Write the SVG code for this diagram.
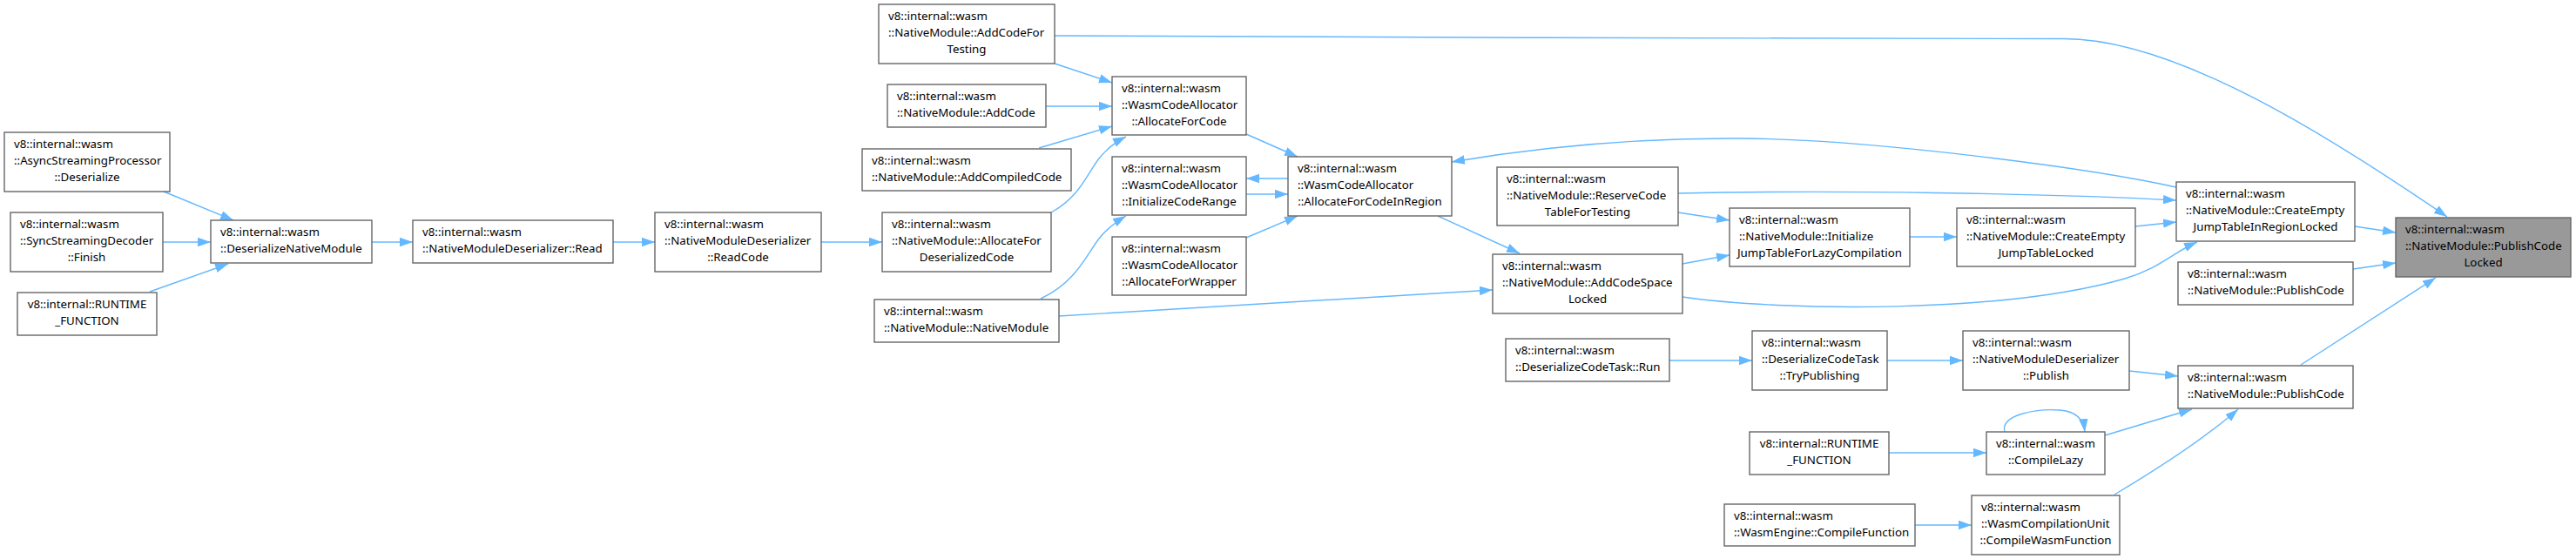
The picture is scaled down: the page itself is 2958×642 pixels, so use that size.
<svg xmlns="http://www.w3.org/2000/svg" width="2958" height="642" viewBox="0 0 2958 642">
<style>
.n rect{fill:#ffffff;stroke:#666666;stroke-width:1.4}
.m rect{fill:#999999;stroke:#666666;stroke-width:1.4}
text{font-family:"Noto Sans","DejaVu Sans",sans-serif;font-size:13.3px;fill:#000000}
.c{text-anchor:middle}
#edges path{fill:none;stroke:#63b8ff;stroke-width:1.4;marker-end:url(#ah)}
</style>
<defs>
<marker id="ah" markerWidth="16" markerHeight="11" refX="15" refY="5.25" orient="auto" markerUnits="userSpaceOnUse">
<path d="M0,0 L15,5.25 L0,10.5 z" fill="#63b8ff"/>
</marker>
</defs>
<rect width="2958" height="642" fill="#ffffff"/>
<g id="edges">
<path d="M188,220 L268,253"/>
<path d="M187,278 L242,278"/>
<path d="M172,335 L262,303"/>
<path d="M427,278 L474,278"/>
<path d="M704,278 L752,278"/>
<path d="M943,278 L1013,278"/>
<path d="M1211,73 L1277,95"/>
<path d="M1201,122 L1277,122"/>
<path d="M1193,170 L1277,145"/>
<path d="M1207,244 C1240,226 1248,200 1262,182 C1270,172 1281,163 1293,157"/>
<path d="M1195,343 C1235,325 1248,292 1262,274 C1270,264 1281,255 1293,248"/>
<path d="M1431,154 L1490,180"/>
<path d="M1479,205 L1431,205"/>
<path d="M1431,223 L1479,223"/>
<path d="M1431,273 L1490,248"/>
<path d="M1216,363 L1714,333"/>
<path d="M1651,248 L1745,291"/>
<path d="M1211,41 C1500,43 2200,44.5 2370,44.5 C2500,44.5 2680,160 2810,249"/>
<path d="M2499,215 C2400,193 2150,160 2000,159 C1860,158 1750,172 1667,186"/>
<path d="M1927,222 C2100,218 2350,222 2499,230"/>
<path d="M1927,244 L1986,253"/>
<path d="M1932,303 L1986,293"/>
<path d="M1932,341 C2050,358 2300,360 2440,320 C2480,308 2495,290 2523,278"/>
<path d="M2193,272 L2247,272"/>
<path d="M2452,260 L2499,255"/>
<path d="M2704,260 L2751,267"/>
<path d="M2702,309 L2751,302"/>
<path d="M2642,419 L2797,319"/>
<path d="M1917,414 L2012,414"/>
<path d="M2167,414 L2254,414"/>
<path d="M2445,426 L2501,432"/>
<path d="M2169,520 L2281,520"/>
<path d="M2302,496 C2296,476 2340,469 2365,471 C2380,472 2392,478 2394,496"/>
<path d="M2417,500 L2517,470"/>
<path d="M2428,568 C2480,537 2530,505 2570,470"/>
<path d="M2199,603 L2264,603"/>
</g>
<g id="A1" class="n"><rect x="5" y="152" width="190" height="68"/><text x="16" y="170">v8::internal::wasm</text><text x="16" y="189">::AsyncStreamingProcessor</text><text class="c" x="100" y="208">::Deserialize</text></g>
<g id="A2" class="n"><rect x="12" y="244" width="175" height="68"/><text x="23" y="262">v8::internal::wasm</text><text x="23" y="281">::SyncStreamingDecoder</text><text class="c" x="99.5" y="300">::Finish</text></g>
<g id="A3" class="n"><rect x="20" y="336" width="160" height="49"/><text class="c" x="100" y="354">v8::internal::RUNTIME</text><text class="c" x="100" y="373">_FUNCTION</text></g>
<g id="B" class="n"><rect x="242" y="253" width="185" height="49"/><text x="253" y="271">v8::internal::wasm</text><text x="253" y="290">::DeserializeNativeModule</text></g>
<g id="C" class="n"><rect x="474" y="253" width="230" height="49"/><text x="485" y="271">v8::internal::wasm</text><text x="485" y="290">::NativeModuleDeserializer::Read</text></g>
<g id="D" class="n"><rect x="752" y="244" width="191" height="68"/><text x="763" y="262">v8::internal::wasm</text><text x="763" y="281">::NativeModuleDeserializer</text><text class="c" x="847.5" y="300">::ReadCode</text></g>
<g id="E1" class="n"><rect x="1009" y="5" width="202" height="68"/><text x="1020" y="23">v8::internal::wasm</text><text x="1020" y="42">::NativeModule::AddCodeFor</text><text class="c" x="1110" y="61">Testing</text></g>
<g id="E2" class="n"><rect x="1019" y="97" width="182" height="49"/><text x="1030" y="115">v8::internal::wasm</text><text x="1030" y="134">::NativeModule::AddCode</text></g>
<g id="E3" class="n"><rect x="990" y="171" width="240" height="48"/><text x="1001" y="189">v8::internal::wasm</text><text x="1001" y="208">::NativeModule::AddCompiledCode</text></g>
<g id="E4" class="n"><rect x="1013" y="244" width="194" height="68"/><text x="1024" y="262">v8::internal::wasm</text><text x="1024" y="281">::NativeModule::AllocateFor</text><text class="c" x="1110" y="300">DeserializedCode</text></g>
<g id="E5" class="n"><rect x="1004" y="344" width="212" height="49"/><text x="1015" y="362">v8::internal::wasm</text><text x="1015" y="381">::NativeModule::NativeModule</text></g>
<g id="F1" class="n"><rect x="1277" y="88" width="154" height="67"/><text x="1288" y="106">v8::internal::wasm</text><text x="1288" y="125">::WasmCodeAllocator</text><text class="c" x="1354" y="144">::AllocateForCode</text></g>
<g id="F2" class="n"><rect x="1277" y="180" width="154" height="67"/><text x="1288" y="198">v8::internal::wasm</text><text x="1288" y="217">::WasmCodeAllocator</text><text class="c" x="1354" y="236">::InitializeCodeRange</text></g>
<g id="F3" class="n"><rect x="1277" y="272" width="154" height="67"/><text x="1288" y="290">v8::internal::wasm</text><text x="1288" y="309">::WasmCodeAllocator</text><text class="c" x="1354" y="328">::AllocateForWrapper</text></g>
<g id="G" class="n"><rect x="1479" y="180" width="188" height="68"/><text x="1490" y="198">v8::internal::wasm</text><text x="1490" y="217">::WasmCodeAllocator</text><text class="c" x="1573" y="236">::AllocateForCodeInRegion</text></g>
<g id="H1" class="n"><rect x="1719" y="192" width="208" height="67"/><text x="1730" y="210">v8::internal::wasm</text><text x="1730" y="229">::NativeModule::ReserveCode</text><text class="c" x="1823" y="248">TableForTesting</text></g>
<g id="H2" class="n"><rect x="1714" y="292" width="218" height="68"/><text x="1725" y="310">v8::internal::wasm</text><text x="1725" y="329">::NativeModule::AddCodeSpace</text><text class="c" x="1823" y="348">Locked</text></g>
<g id="H3" class="n"><rect x="1729" y="389" width="188" height="49"/><text x="1740" y="407">v8::internal::wasm</text><text x="1740" y="426">::DeserializeCodeTask::Run</text></g>
<g id="H4" class="n"><rect x="1980" y="579" width="219" height="48"/><text x="1991" y="597">v8::internal::wasm</text><text x="1991" y="616">::WasmEngine::CompileFunction</text></g>
<g id="I1" class="n"><rect x="1986" y="239" width="207" height="67"/><text x="1997" y="257">v8::internal::wasm</text><text x="1997" y="276">::NativeModule::Initialize</text><text class="c" x="2089.5" y="295">JumpTableForLazyCompilation</text></g>
<g id="I2" class="n"><rect x="2012" y="380" width="155" height="68"/><text x="2023" y="398">v8::internal::wasm</text><text x="2023" y="417">::DeserializeCodeTask</text><text class="c" x="2089.5" y="436">::TryPublishing</text></g>
<g id="I3" class="n"><rect x="2009" y="496" width="160" height="49"/><text class="c" x="2089" y="514">v8::internal::RUNTIME</text><text class="c" x="2089" y="533">_FUNCTION</text></g>
<g id="J1" class="n"><rect x="2247" y="239" width="205" height="67"/><text x="2258" y="257">v8::internal::wasm</text><text x="2258" y="276">::NativeModule::CreateEmpty</text><text class="c" x="2349.5" y="295">JumpTableLocked</text></g>
<g id="J2" class="n"><rect x="2254" y="380" width="191" height="68"/><text x="2265" y="398">v8::internal::wasm</text><text x="2265" y="417">::NativeModuleDeserializer</text><text class="c" x="2349.5" y="436">::Publish</text></g>
<g id="J3" class="n"><rect x="2281" y="496" width="136" height="49"/><text x="2292" y="514">v8::internal::wasm</text><text class="c" x="2349" y="533">::CompileLazy</text></g>
<g id="J4" class="n"><rect x="2264" y="569" width="170" height="68"/><text x="2275" y="587">v8::internal::wasm</text><text x="2275" y="606">::WasmCompilationUnit</text><text class="c" x="2349" y="625">::CompileWasmFunction</text></g>
<g id="K1" class="n"><rect x="2499" y="209" width="205" height="68"/><text x="2510" y="227">v8::internal::wasm</text><text x="2510" y="246">::NativeModule::CreateEmpty</text><text class="c" x="2601.5" y="265">JumpTableInRegionLocked</text></g>
<g id="K2" class="n"><rect x="2501" y="301" width="201" height="49"/><text x="2512" y="319">v8::internal::wasm</text><text x="2512" y="338">::NativeModule::PublishCode</text></g>
<g id="K3" class="n"><rect x="2501" y="420" width="201" height="49"/><text x="2512" y="438">v8::internal::wasm</text><text x="2512" y="457">::NativeModule::PublishCode</text></g>
<g id="L" class="m"><rect x="2751" y="250" width="201" height="68"/><text x="2762" y="268">v8::internal::wasm</text><text x="2762" y="287">::NativeModule::PublishCode</text><text class="c" x="2851.5" y="306">Locked</text></g>
</svg>
